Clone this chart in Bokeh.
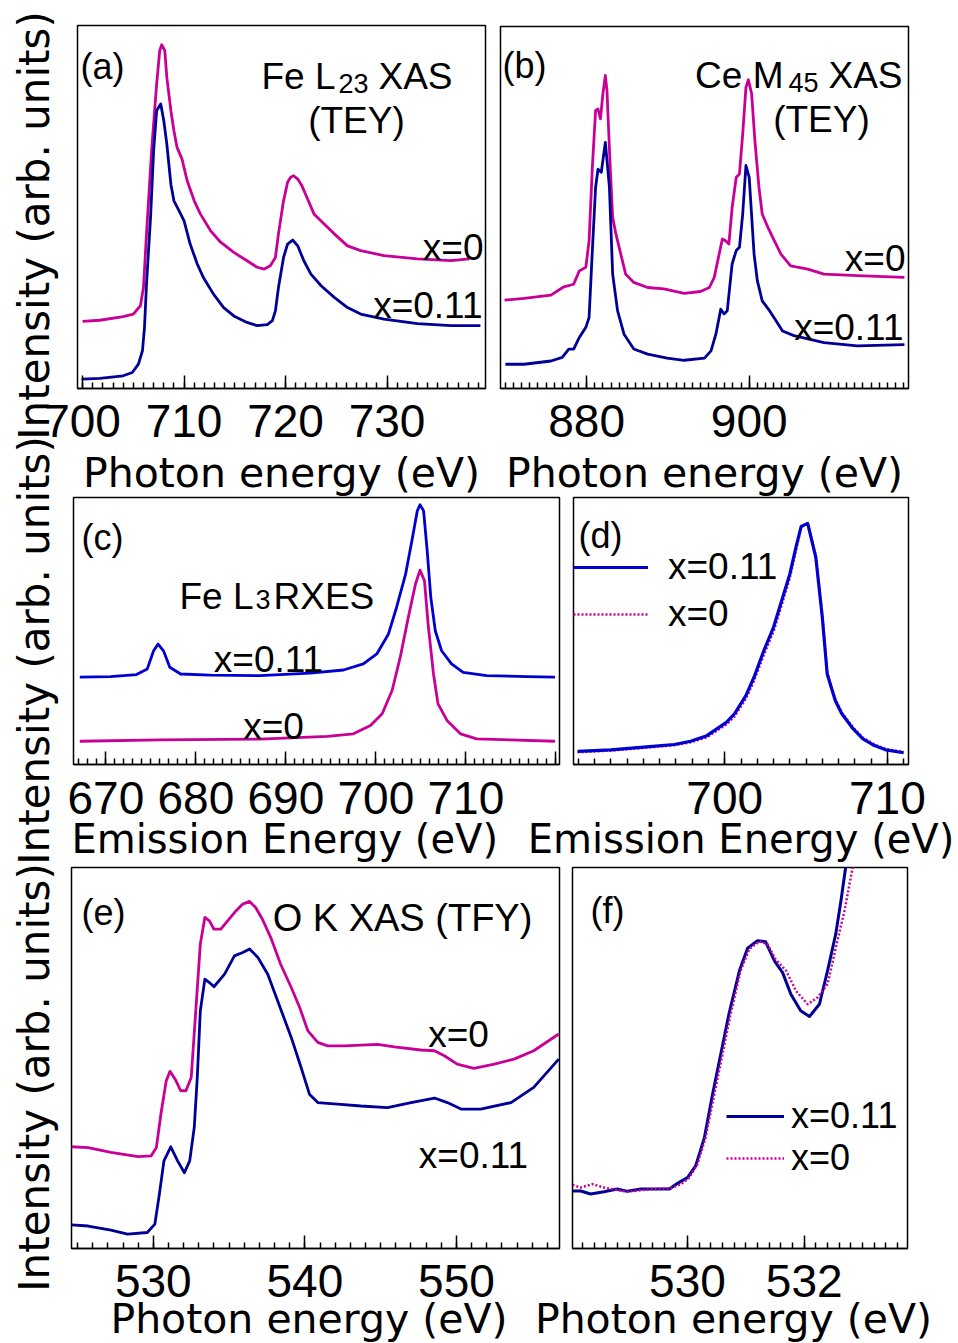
import numpy as np
from bokeh.plotting import figure
from bokeh.layouts import column
from bokeh.models import Range1d, FixedTicker, Label, Legend, LegendItem
from bokeh.embed import file_html
from bokeh.resources import INLINE

# ---------------------------------------------------------------- styles
X0_COLOR = "#C80096"      # x = 0
NAVY = "#000096"          # x = 0.11 in the XAS panels
BLUE = "#0000D2"          # x = 0.11 in the RXES panels
TITLE_FONT = "DejaVu Sans"
TICK_FONT = "Liberation Sans"
NOTE_FONT = "Liberation Sans"
NBSP = "\u00a0"
Y_TITLE = "Intensity (arb. units)"

# ---------------------------------------------------------------- (a) Fe L23 XAS, TEY
fe_xas_e_x0 = [700.0, 701.7, 704.0, 705.0, 705.7, 706.0, 706.3, 706.8, 707.3, 707.6,
               707.8, 708.1, 708.3, 708.7, 709.0, 709.3, 709.8, 710.3, 711.0, 711.6,
               712.6, 713.6, 714.9, 716.2, 717.2, 717.9, 718.5, 719.0, 719.3, 719.8,
               720.2, 720.5, 720.8, 721.2, 721.6, 722.1, 722.8, 723.8, 724.8, 726.1,
               727.4, 729.7, 733.0, 736.3, 738.1]
fe_xas_i_x0 = [18.5, 18.8, 19.8, 20.5, 22.8, 27.8, 42.6, 65.5, 83.9, 93.1,
               94.7, 93.1, 85.8, 76.6, 71.0, 66.5, 63.2, 57.3, 51.7, 48.1,
               43.5, 40.3, 37.5, 35.2, 33.4, 32.9, 33.8, 36.1, 42.6, 51.7,
               56.8, 58.2, 58.6, 57.7, 55.9, 52.7, 48.1, 45.3, 42.6, 39.3,
               38.0, 36.6, 35.7, 35.2, 35.7]
fe_xas_e_x11 = [699.9, 701.7, 704.0, 704.9, 705.5, 705.9, 706.1, 706.3, 706.7, 707.0,
                707.3, 707.7, 708.0, 708.3, 708.7, 709.0, 709.5, 710.0, 710.6, 711.3,
                711.9, 712.9, 713.9, 714.9, 716.2, 717.2, 718.2, 718.7, 719.0, 719.3,
                719.8, 720.2, 720.7, 721.2, 721.8, 722.5, 723.5, 724.8, 726.1, 727.4,
                729.7, 733.0, 736.3, 739.2]
fe_xas_i_x11 = [2.6, 2.8, 3.5, 4.4, 6.7, 10.4, 16.8, 28.8, 47.2, 65.5,
                76.6, 78.4, 73.8, 67.4, 56.3, 51.7, 49.0, 46.2, 39.8, 34.3,
                30.6, 26.0, 22.3, 20.0, 18.2, 17.3, 17.6, 18.7, 21.4, 27.8,
                36.1, 39.8, 40.9, 39.3, 35.2, 31.5, 28.3, 25.1, 22.3, 20.5,
                19.1, 17.9, 17.3, 17.3]

# ---------------------------------------------------------------- (b) Ce M45 XAS, TEY
ce_xas_e_x0 = [869.9, 872.3, 875.6, 877.2, 878.4, 879.1, 879.9, 880.3, 880.7, 881.1,
               881.4, 881.7, 882.0, 882.3, 882.5, 882.9, 883.2, 883.6, 884.2, 884.8,
               885.8, 887.5, 889.5, 892.0, 894.0, 895.1, 895.7, 896.3, 896.7, 897.1,
               897.5, 897.9, 898.4, 898.8, 899.2, 899.6, 899.9, 900.3, 900.7, 901.2,
               901.6, 902.3, 903.1, 903.9, 905.1, 907.2, 909.2, 913.3, 919.1]
ce_xas_i_x0 = [24.4, 24.9, 25.8, 28.1, 28.8, 32.5, 33.5, 40.8, 61.1, 76.8,
               77.2, 74.5, 81.4, 86.5, 82.3, 61.1, 47.3, 42.7, 37.1, 31.6,
               29.3, 27.9, 27.5, 26.3, 26.8, 27.9, 30.7, 37.1, 41.3, 40.8,
               39.9, 50.0, 58.3, 59.3, 70.3, 83.2, 85.3, 81.4, 68.5, 55.6,
               48.2, 44.5, 40.8, 37.1, 33.9, 33.0, 31.6, 31.2, 30.7]
ce_xas_e_x11 = [870.0, 872.3, 875.6, 877.0, 877.8, 878.4, 879.1, 879.9, 880.3, 880.7,
                881.1, 881.4, 881.8, 882.3, 882.8, 883.2, 883.8, 884.6, 885.8, 887.5,
                889.9, 892.0, 894.5, 895.3, 895.9, 896.5, 896.9, 897.3, 897.9, 898.4,
                898.8, 899.2, 899.6, 900.0, 900.6, 901.0, 901.6, 902.5, 903.3, 904.1,
                905.5, 909.2, 913.3, 919.1]
ce_xas_i_x11 = [6.7, 6.7, 7.6, 8.6, 10.9, 10.9, 14.1, 16.9, 19.6, 38.1,
                55.6, 60.6, 59.7, 68.0, 55.6, 31.6, 21.5, 15.0, 10.9, 9.5,
                8.4, 7.8, 8.4, 10.4, 15.0, 21.9, 20.6, 21.5, 34.4, 38.1,
                39.0, 48.2, 61.6, 58.3, 37.1, 29.8, 24.2, 21.5, 18.7, 15.9,
                14.6, 12.7, 11.8, 12.1]

# ---------------------------------------------------------------- (c) Fe L3 RXES
rxes_e_x11 = [667.1, 670.5, 673.4, 674.6, 675.3, 675.8, 676.4, 677.1, 678.3, 681.6,
              687.1, 692.7, 696.4, 698.6, 700.1, 701.4, 702.3, 703.3, 704.0, 704.6,
              704.9, 705.3, 705.7, 706.1, 706.6, 707.3, 708.4, 709.7, 712.3, 716.8,
              719.9]
rxes_i_x11 = [32.7, 32.9, 33.7, 35.8, 42.6, 45.1, 42.6, 36.4, 33.9, 33.5,
              33.3, 34.2, 35.4, 37.7, 41.4, 48.9, 58.9, 71.3, 83.8, 95.0,
              97.3, 95.0, 80.0, 62.6, 50.1, 42.6, 37.7, 34.5, 33.3, 32.9,
              32.7]
rxes_e_x0 = [667.1, 676.0, 687.1, 694.6, 697.5, 699.4, 700.7, 701.8, 702.7, 703.6,
             704.4, 704.9, 705.4, 705.8, 706.4, 706.9, 707.9, 709.4, 711.2, 714.9,
             719.9]
rxes_i_x0 = [8.7, 9.2, 9.5, 10.5, 11.5, 14.6, 19.0, 27.7, 40.1, 55.1,
             67.6, 72.8, 68.8, 52.6, 33.9, 22.7, 16.5, 11.5, 9.6, 9.2,
             8.7]

# ---------------------------------------------------------------- (d) RXES main line, normalised
rxes_zoom_e = [690.95, 693.0, 695.0, 696.9, 697.9, 698.9, 700.1, 700.6, 701.3, 701.8,
               702.4, 703.0, 703.5, 704.0, 704.4, 704.7, 705.1, 705.6, 706.0, 706.3,
               706.8, 707.2, 707.9, 708.5, 709.2, 709.9, 711.0]
rxes_zoom_i_x11 = [4.9, 5.5, 6.5, 7.5, 8.7, 10.8, 15.8, 19.0, 25.8, 32.7,
                   42.6, 51.4, 61.3, 71.3, 81.9, 89.2, 90.3, 77.6, 55.1, 33.9,
                   23.9, 19.0, 13.3, 9.6, 7.1, 5.5, 4.4]
rxes_zoom_i_x0 = [4.6, 5.2, 6.2, 7.2, 8.3, 10.2, 15.0, 18.0, 24.6, 31.3,
                  41.0, 49.8, 59.7, 69.8, 80.8, 88.8, 90.3, 78.0, 55.8, 34.5,
                  24.4, 19.4, 13.8, 10.0, 7.5, 5.8, 4.7]

# ---------------------------------------------------------------- (e) O K XAS, TFY
o_xas_e_x0 = [524.6, 525.7, 527.2, 529.0, 529.85, 530.2, 530.5, 530.85, 531.1, 531.5,
              531.8, 532.15, 532.5, 532.8, 533.1, 533.4, 533.7, 534.0, 534.45, 534.9,
              535.45, 535.9, 536.35, 536.75, 537.2, 537.75, 538.4, 539.1, 539.65, 540.2,
              540.85, 541.5, 542.6, 544.8, 545.9, 547.65, 548.55, 549.2, 550.05, 551.15,
              552.5, 553.8, 555.1, 556.75]
o_xas_i_x0 = [26.7, 26.5, 25.2, 24.1, 24.3, 26.5, 35.3, 44.0, 46.5, 44.0,
              41.4, 41.4, 44.9, 62.4, 79.9, 86.9, 86.0, 83.8, 83.8, 86.0,
              88.6, 90.4, 91.1, 89.5, 86.4, 81.6, 74.6, 68.5, 63.3, 57.1,
              54.1, 53.2, 53.2, 53.6, 52.9, 52.1, 51.9, 50.6, 48.4, 47.3,
              48.4, 49.7, 51.9, 56.3]
o_xas_e_x11 = [524.6, 525.7, 527.2, 528.3, 529.6, 530.1, 530.4, 530.7, 531.15, 531.6,
               532.05, 532.4, 532.7, 532.9, 533.1, 533.4, 533.7, 534.0, 534.7, 535.35,
               535.9, 536.35, 536.9, 537.55, 538.2, 539.1, 539.75, 540.3, 540.85, 542.15,
               543.7, 545.45, 547.0, 548.55, 549.4, 550.3, 551.6, 553.6, 555.1, 556.75]
o_xas_i_x11 = [6.2, 5.9, 4.8, 3.8, 4.2, 6.4, 14.3, 23.0, 26.7, 23.0,
               19.9, 23.0, 31.8, 44.9, 62.4, 70.7, 69.8, 68.7, 72.0, 76.8,
               77.7, 78.6, 76.4, 72.0, 65.0, 55.4, 47.5, 40.5, 38.3, 37.9,
               37.4, 37.0, 38.3, 39.5, 38.3, 36.6, 36.6, 38.3, 42.3, 49.7]

# ---------------------------------------------------------------- (f) O K pre-edge, normalised
o_pre_e_x11 = [528.03, 528.17, 528.34, 528.57, 528.80, 528.97, 529.20, 529.43, 529.69, 529.83,
               530.00, 530.14, 530.29, 530.43, 530.57, 530.71, 530.89, 531.03, 531.20, 531.34,
               531.49, 531.63, 531.77, 531.94, 532.09, 532.26, 532.40, 532.54, 532.63, 532.71,
               532.78]
o_pre_i_x11 = [15.1, 15.1, 14.3, 14.9, 15.6, 15.0, 15.6, 15.6, 15.6, 17.1,
               18.6, 21.7, 29.1, 40.5, 51.0, 61.5, 72.9, 78.8, 80.8, 80.5,
               75.5, 72.4, 66.8, 62.4, 60.9, 64.1, 72.9, 82.5, 91.3, 100.0,
               108.0]
o_pre_e_x0 = [528.03, 528.17, 528.37, 528.57, 528.80, 528.97, 529.20, 529.43, 529.71, 529.89,
              530.03, 530.17, 530.31, 530.46, 530.60, 530.74, 530.91, 531.06, 531.23, 531.37,
              531.51, 531.69, 531.86, 532.06, 532.23, 532.40, 532.57, 532.69, 532.83, 532.90]
o_pre_i_x0 = [16.7, 16.0, 16.9, 16.0, 15.3, 14.9, 15.3, 15.6, 15.8, 16.9,
              18.6, 22.1, 29.1, 40.5, 51.0, 61.5, 72.9, 78.6, 80.6, 79.9,
              75.9, 72.9, 67.6, 64.1, 65.9, 69.4, 80.8, 88.6, 100.0, 106.0]

# every figure shares the same side borders, so the frames land where they are placed
SIDE_LEFT = 74
SIDE_RIGHT = 50


def bare_figure(frame, top_border, x_range, y_axis):
    fl, ft, fr, fb = frame
    p = figure(frame_width=fr - fl, frame_height=fb - ft,
               x_range=Range1d(*x_range), y_range=Range1d(0, 100),
               min_border_left=SIDE_LEFT, min_border_right=SIDE_RIGHT,
               min_border_top=top_border, min_border_bottom=0,
               x_axis_location="below" if not y_axis else None,
               y_axis_location="left" if y_axis else None,
               toolbar_location=None, tools="", output_backend="svg")
    p.title.visible = False
    p.grid.visible = False
    p.background_fill_alpha = 0
    p.border_fill_alpha = 0
    p.styles = {"position": "absolute",
                "left": f"{fl - SIDE_LEFT}px", "top": f"{ft - top_border}px"}
    return p


def row_y_title(frame, standoff):
    """Axis that carries the shared vertical title of one row of panels."""
    p = bare_figure(frame, 5, (0, 1), y_axis=True)
    p.outline_line_color = None
    ay = p.yaxis[0]
    ay.ticker = FixedTicker(ticks=[])
    ay.axis_line_color = None
    ay.major_tick_in = 0
    ay.major_tick_out = 0
    ay.minor_tick_in = 0
    ay.minor_tick_out = 0
    ay.axis_label = Y_TITLE
    ay.axis_label_text_font = TITLE_FONT
    ay.axis_label_text_font_size = "42px"
    ay.axis_label_text_font_style = "normal"
    ay.axis_label_text_color = "black"
    ay.axis_label_standoff = standoff
    return p


def panel(x_range, majors, minor_step, frame, top_border, x_label, x_label_standoff,
          tick_standoff=16, hidden_labels=(), title_size="41px"):
    """One framed panel; frame = (left, top, right, bottom) in page pixels."""
    p = bare_figure(frame, top_border, x_range, y_axis=False)
    p.outline_line_color = "black"
    p.outline_line_width = 1.5
    p.outline_line_alpha = 1.0

    lo, hi = x_range
    minors = [round(float(v), 3) for v in np.arange(np.ceil(lo / minor_step) * minor_step, hi, minor_step)]
    ax = p.xaxis[0]
    ax.ticker = FixedTicker(ticks=majors, minor_ticks=minors)
    ax.major_label_overrides = {m: "" for m in hidden_labels}
    ax.axis_line_color = "black"
    ax.axis_line_width = 1.5
    ax.major_tick_in = 13
    ax.major_tick_out = 0
    ax.minor_tick_in = 6
    ax.minor_tick_out = 0
    ax.major_tick_line_width = 1.5
    ax.minor_tick_line_width = 1.5
    ax.major_label_text_font = TICK_FONT
    ax.major_label_text_font_size = "46px"
    ax.major_label_text_color = "black"
    ax.major_label_standoff = tick_standoff
    ax.axis_label = x_label
    ax.axis_label_text_font = TITLE_FONT
    ax.axis_label_text_font_size = title_size
    ax.axis_label_text_font_style = "normal"
    ax.axis_label_text_color = "black"
    ax.axis_label_standoff = x_label_standoff
    return p


def note(p, x, y, text, size="37px", align="left"):
    p.add_layout(Label(x=x, y=y, x_units="screen", y_units="screen", text=text,
                       text_font=NOTE_FONT, text_font_size=size, text_align=align,
                       text_baseline="alphabetic", text_color="black"))


def curve(p, x, y, color, width=2.8, dash="solid"):
    return p.line(x, y, line_color=color, line_width=width, line_dash=dash, line_join="round")


def legend(p, items, location, glyph_width, item_height, spacing, standoff, size):
    p.add_layout(Legend(items=[LegendItem(label=t, renderers=[r]) for t, r in items],
                        location=location, padding=0, margin=0, spacing=spacing,
                        glyph_width=glyph_width, glyph_height=item_height,
                        label_height=item_height, label_standoff=standoff,
                        label_text_font=NOTE_FONT, label_text_font_size=size,
                        label_text_color="black",
                        border_line_color=None, background_fill_alpha=0))


# shared vertical titles, one per row
ty1 = row_y_title((77, 9, 78, 441), 19)
ty2 = row_y_title((73, 434, 74, 866), 15)
ty3 = row_y_title((71, 861, 72, 1293), 13)

# (a)
pa = panel((699.5, 739.7), [700, 710, 720, 730], 1, (77, 25, 485, 388), 25,
           "Photon energy (eV)", 9)
curve(pa, fe_xas_e_x0, fe_xas_i_x0, X0_COLOR)
curve(pa, fe_xas_e_x11, fe_xas_i_x11, NAVY)
note(pa, 3, 322, "(a)", size="36px")
note(pa, 258, 312, "Fe L", align="right")
note(pa, 261, 305, "23", size="27px")
note(pa, 301, 312, "XAS")
note(pa, 279, 268, "(TEY)", align="center")
note(pa, 406, 141, "x=0", align="right")
note(pa, 405, 83, "x=0.11", align="right")

# (b)
pb = panel((869.4, 919.6), [880, 900], 1, (500, 26, 908, 388), 26,
           "Photon energy (eV)", 9)
curve(pb, ce_xas_e_x0, ce_xas_i_x0, X0_COLOR)
curve(pb, ce_xas_e_x11, ce_xas_i_x11, NAVY)
note(pb, 2, 323, "(b)", size="36px")
note(pb, 283, 313, "Ce M", align="right")
note(pb, 288, 306, "45", size="27px")
note(pb, 328, 313, "XAS")
note(pb, 321, 269, "(TEY)", align="center")
note(pb, 405, 130, "x=0", align="right")
note(pb, 403, 61, "x=0.11", align="right")

# (c)
pc = panel((666.4, 720.4), [670, 680, 690, 700, 710, 720], 1, (73, 497, 559, 764), 67,
           "Emission Energy (eV)" + NBSP * 5, -1, tick_standoff=17, hidden_labels=(720,),
           title_size="40px")
curve(pc, rxes_e_x11, rxes_i_x11, BLUE)
curve(pc, rxes_e_x0, rxes_i_x0, X0_COLOR)
note(pc, 8, 227, "(c)", size="36px")
note(pc, 180, 168, "Fe L", align="right")
note(pc, 182, 165, "3", size="27px")
note(pc, 200, 168, "RXES")
note(pc, 195, 105, "x=0.11", align="center")
note(pc, 200, 38, "x=0", align="center")

# (d)
pd_ = panel((690.7, 711.3), [700, 710], 1, (573, 497, 908, 764), 3,
            "Emission Energy (eV)", -1, tick_standoff=17, title_size="40px")
rd0 = curve(pd_, rxes_zoom_e, rxes_zoom_i_x0, X0_COLOR, width=2.5, dash="2 2")
rd1 = curve(pd_, rxes_zoom_e, rxes_zoom_i_x11, BLUE, width=3.2)
note(pd_, 5, 229, "(d)", size="36px")
legend(pd_, [("x=0.11", rd1), ("x=0", rd0)], (0, 129), 75, 40, 5, 20, "37px")

# (e)
pe = panel((524.6, 556.8), [530, 540, 550], 1, (71, 867, 559, 1248), 5,
           "Photon energy (eV)" + NBSP, -5)
curve(pe, o_xas_e_x0, o_xas_i_x0, X0_COLOR)
curve(pe, o_xas_e_x11, o_xas_i_x11, NAVY)
note(pe, 10, 336, "(e)", size="36px")
note(pe, 331, 331, "O K XAS (TFY)", size="38px", align="center")
note(pe, 387, 214, "x=0", align="center")
note(pe, 402, 93, "x=0.11", align="center")

# (f)
pf = panel((528.03, 533.77), [530, 532], 0.2, (572, 867, 907, 1248), 5,
           "Photon energy (eV)" + NBSP, -5)
rf1 = curve(pf, o_pre_e_x11, o_pre_i_x11, NAVY, width=3.0)
rf0 = curve(pf, o_pre_e_x0, o_pre_i_x0, X0_COLOR, width=2.5, dash="2 2")
note(pf, 18, 338, "(f)", size="36px")
legend(pf, [("x=0.11", rf1), ("x=0", rf0)], (154, 69), 58, 38, 0, 7, "36px")

page = column(ty1, ty2, ty3, pa, pb, pc, pd_, pe, pf)
page.styles = {"position": "relative", "width": "958px", "height": "1343px", "overflow": "hidden"}

open("out.html", "w").write(file_html(page, INLINE))
